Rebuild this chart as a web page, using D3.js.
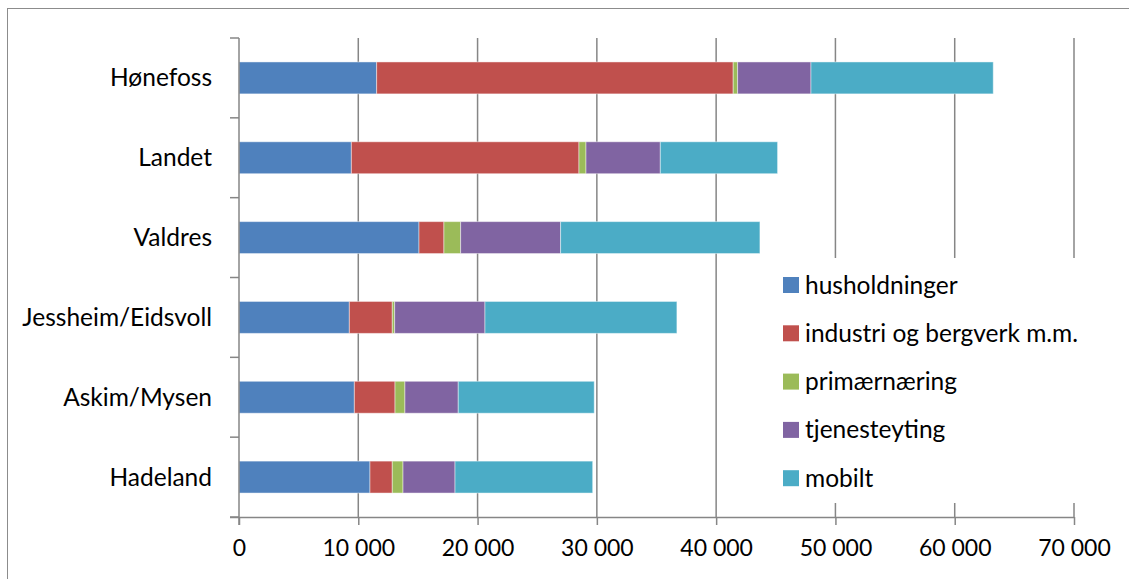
<!DOCTYPE html>
<html>
<head>
<meta charset="utf-8">
<script src="https://cdn.jsdelivr.net/npm/d3@7"></script>
<style>
  html, body { margin: 0; padding: 0; background: #fff; }
  svg { display: block; }
  text { font-family: Lato, "Open Sans", sans-serif; fill: #000; }
</style>
</head>
<body>
<svg id="chart" width="1129" height="579"></svg>
<script>
// Regions, top to bottom
const regions = ["Hønefoss", "Landet", "Valdres", "Jessheim/Eidsvoll", "Askim/Mysen", "Hadeland"];

// Series names (stack order, left to right)
const seriesNames = ["husholdninger", "industri og bergverk m.m.", "primærnæring", "tjenesteyting", "mobilt"];
const seriesColors = ["#4F81BD", "#C0504D", "#9BBB59", "#8064A2", "#4BACC6"];

// Values per series, in region order
const husholdninger = [11540, 9420, 15090, 9250, 9670, 10980];
const industri      = [29890, 19080, 2090, 3600, 3410, 1870];
const primaer       = [370, 590, 1400, 200, 830, 900];
const tjeneste      = [6150, 6230, 8380, 7570, 4470, 4360];
const mobilt        = [15280, 9830, 16710, 16090, 11400, 11540];

const xTicks = [0, 10000, 20000, 30000, 40000, 50000, 60000, 70000];

const seriesValues = [husholdninger, industri, primaer, tjeneste, mobilt];
const rows = regions.map((r, i) => {
  const o = { region: r };
  seriesNames.forEach((s, k) => { o[s] = seriesValues[k][i]; });
  return o;
});

const svg = d3.select("#chart");
const plotLeft = 239, plotTop = 38, plotRight = 1074, plotBottom = 517;
const gridColor = "#868686";
const labelSize = 24.5;

// Outer chart frame
svg.append("rect")
  .attr("x", 7.5).attr("y", 8.5).attr("width", 1140).attr("height", 600)
  .attr("fill", "#fff").attr("stroke", "#8c8c8c").attr("stroke-width", 1);

const x = d3.scaleLinear().domain([0, 70000]).range([plotLeft, plotRight]);
const y = d3.scaleBand().domain(regions).range([plotTop, plotBottom]).paddingInner(0.6).paddingOuter(0.3);

// Vertical gridlines
svg.append("g").selectAll("line").data(xTicks.slice(1)).join("line")
  .attr("x1", d => x(d)).attr("x2", d => x(d))
  .attr("y1", plotTop).attr("y2", plotBottom)
  .attr("stroke", gridColor).attr("stroke-width", 1.5);

// Stacked bars
const stack = d3.stack().keys(seriesNames);
const layers = stack(rows);
svg.append("g").selectAll("g").data(layers).join("g")
  .attr("fill", (d, i) => seriesColors[i])
  .selectAll("rect").data(d => d).join("rect")
  .attr("x", d => x(d[0]))
  .attr("width", d => x(d[1]) - x(d[0]))
  .attr("y", d => y(d.data.region))
  .attr("height", y.bandwidth())
  .attr("stroke", "rgba(255,255,255,0.45)")
  .attr("stroke-width", 1);

// X axis
const xAxis = svg.append("g")
  .attr("transform", `translate(0,${plotBottom})`)
  .call(d3.axisBottom(x).tickValues(xTicks).tickSize(8).tickPadding(15)
    .tickFormat(d => d3.format(",")(d).replace(/,/g, " ")));
xAxis.select(".domain").attr("stroke", gridColor).attr("stroke-width", 1.5)
  .attr("d", `M${plotLeft - 9},0.5H${plotRight}`);
xAxis.selectAll(".tick line").attr("stroke", gridColor).attr("stroke-width", 1.5);
xAxis.selectAll(".tick text").attr("font-size", 23).attr("font-family", "Lato").attr("fill", "#000");

// Y axis: line with ticks at category boundaries
const yAxis = svg.append("g");
yAxis.append("line")
  .attr("x1", plotLeft).attr("x2", plotLeft).attr("y1", plotTop).attr("y2", plotBottom + 8)
  .attr("stroke", gridColor).attr("stroke-width", 1.5);
const boundaries = d3.range(regions.length + 1).map(i => plotTop + i * (plotBottom - plotTop) / regions.length);
yAxis.selectAll("line.tk").data(boundaries).join("line").attr("class", "tk")
  .attr("x1", plotLeft - 9).attr("x2", plotLeft).attr("y1", d => d).attr("y2", d => d)
  .attr("stroke", gridColor).attr("stroke-width", 1.5);
yAxis.selectAll("text").data(regions).join("text")
  .attr("x", 212)
  .attr("y", d => y(d) + y.bandwidth() / 2)
  .attr("dy", "0.35em")
  .attr("text-anchor", "end")
  .attr("font-size", labelSize)
  .text(d => d);

// Legend
const legend = svg.append("g");
legend.append("rect").attr("x", 772).attr("y", 258).attr("width", 325).attr("height", 245).attr("fill", "#fff");
const legendItems = legend.selectAll("g.item").data(seriesNames).join("g").attr("class", "item")
  .attr("transform", (d, i) => `translate(783,${285 + i * 48.3})`);
legendItems.append("rect").attr("x", 0).attr("y", -8).attr("width", 16).attr("height", 16)
  .attr("fill", (d, i) => seriesColors[i]);
legendItems.append("text").attr("x", 22).attr("dy", "0.35em").attr("font-size", labelSize).text(d => d);
</script>
</body>
</html>
